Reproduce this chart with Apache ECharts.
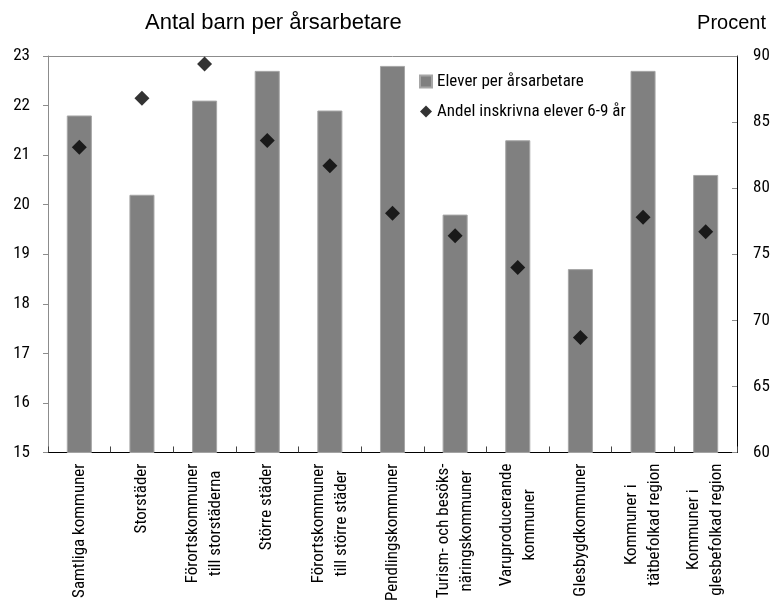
<!DOCTYPE html>
<html>
<head>
<meta charset="utf-8">
<script src="https://cdn.jsdelivr.net/npm/echarts@6/dist/echarts.min.js"></script>
<style>html,body{margin:0;padding:0;background:#fff}#c{width:775px;height:604px}</style>
</head>
<body>
<div id="c"></div>
<script>
const categories = [
  ["Samtliga kommuner"],
  ["Storstäder"],
  ["Förortskommuner", "till storstäderna"],
  ["Större städer"],
  ["Förortskommuner", "till större städer"],
  ["Pendlingskommuner"],
  ["Turism- och besöks-", "näringskommuner"],
  ["Varuproducerande", "kommuner"],
  ["Glesbygdkommuner"],
  ["Kommuner i", "tätbefolkad region"],
  ["Kommuner i", "glesbefolkad region"]
];
const elevPerArsarbetare = [21.8, 20.2, 22.1, 22.7, 21.9, 22.8, 19.8, 21.3, 18.7, 22.7, 20.6];
const andelInskrivna = [83.1, 86.8, 89.4, 83.6, 81.7, 78.1, 76.4, 74.0, 68.7, 77.8, 76.7];
const seriesNames = ["Elever per årsarbetare", "Andel inskrivna elever 6-9 år"];
const leftTitle = "Antal barn per årsarbetare";
const rightTitle = "Procent";

const NARROW = "'Roboto Condensed', sans-serif";
const LABEL_SIZE = 17;
const catNames = categories.map(c => c.join("\n"));

// Rich styles that centre the lines of each multi-line category label
const ctx = document.createElement('canvas').getContext('2d');
ctx.font = LABEL_SIZE + "px 'Roboto Condensed'";
const rich = {};
categories.forEach((lines, i) => {
  const ws = lines.map(l => ctx.measureText(l).width);
  const maxW = Math.max.apply(null, ws);
  lines.forEach((l, j) => {
    rich['r' + i + '_' + j] = {
      padding: [0, (maxW - ws[j]) / 2, 0, 0],
      backgroundColor: 'rgba(255,255,255,0)',
      fontFamily: NARROW, fontSize: LABEL_SIZE, lineHeight: 23, color: '#000'
    };
  });
});

const chart = echarts.init(document.getElementById('c'), null, {renderer: 'canvas'});
chart.setOption({
  animation: false,
  backgroundColor: '#fff',
  title: [
    {text: leftTitle, left: 140, top: 7, textStyle: {fontFamily: "'Liberation Sans', sans-serif", fontSize: 22, fontWeight: 'normal', color: '#000'}},
    {text: rightTitle, right: 4, top: 8, textStyle: {fontFamily: "'Liberation Sans', sans-serif", fontSize: 20, fontWeight: 'normal', color: '#000'}}
  ],
  legend: {
    orient: 'vertical',
    left: 414,
    top: 68,
    itemGap: 13,
    itemWidth: 12,
    itemHeight: 12,
    itemTextGap: 3,
    textStyle: {fontFamily: NARROW, fontSize: 17, color: '#000'},
    data: [{name: seriesNames[0], icon: 'rect'}, {name: seriesNames[1], icon: 'diamond'}]
  },
  grid: {left: 48, right: 38, top: 56, bottom: 143, containLabel: false},
  xAxis: [{
    type: 'category',
    data: catNames,
    position: 'bottom',
    axisLine: {lineStyle: {color: '#000', width: 1}},
    axisTick: {show: true, inside: true, length: 6, lineStyle: {color: '#444'}},
    axisLabel: {
      rotate: 90,
      margin: 11,
      interval: 0,
      color: '#000',
      fontFamily: NARROW,
      fontSize: LABEL_SIZE,
      lineHeight: 23,
      formatter: function (v, idx) {
        return v.split("\n").map((l, j) => '{r' + idx + '_' + j + '|' + l + '}').join("\n");
      },
      rich: rich
    }
  }, {
    type: 'category',
    data: catNames,
    position: 'top',
    axisLine: {show: true, lineStyle: {color: '#8c8c8c', width: 1}},
    axisTick: {show: false},
    axisLabel: {show: false}
  }],
  yAxis: [{
    type: 'value',
    min: 15, max: 23, interval: 1,
    position: 'left',
    axisLine: {show: true, lineStyle: {color: '#8c8c8c', width: 1}},
    axisTick: {show: true, inside: false, length: 5, lineStyle: {color: '#8c8c8c'}},
    splitLine: {show: false},
    axisLabel: {color: '#000', fontFamily: NARROW, fontSize: 17, margin: 18}
  }, {
    type: 'value',
    min: 60, max: 90, interval: 5,
    position: 'right',
    axisLine: {show: true, lineStyle: {color: '#000', width: 1}},
    axisTick: {show: true, inside: true, length: 5, lineStyle: {color: '#8c8c8c'}},
    splitLine: {show: false},
    axisLabel: {color: '#000', fontFamily: NARROW, fontSize: 17, margin: 16}
  }],
  series: [{
    name: seriesNames[0],
    type: 'bar',
    xAxisIndex: 0,
    yAxisIndex: 0,
    data: elevPerArsarbetare,
    barWidth: '40%',
    itemStyle: {color: '#808080', borderColor: '#a6a6a6', borderWidth: 1}
  }, {
    name: seriesNames[1],
    type: 'scatter',
    xAxisIndex: 0,
    yAxisIndex: 1,
    data: andelInskrivna,
    symbol: 'diamond',
    symbolSize: 15,
    itemStyle: {color: '#000'}
  }]
});
</script>
</body>
</html>
